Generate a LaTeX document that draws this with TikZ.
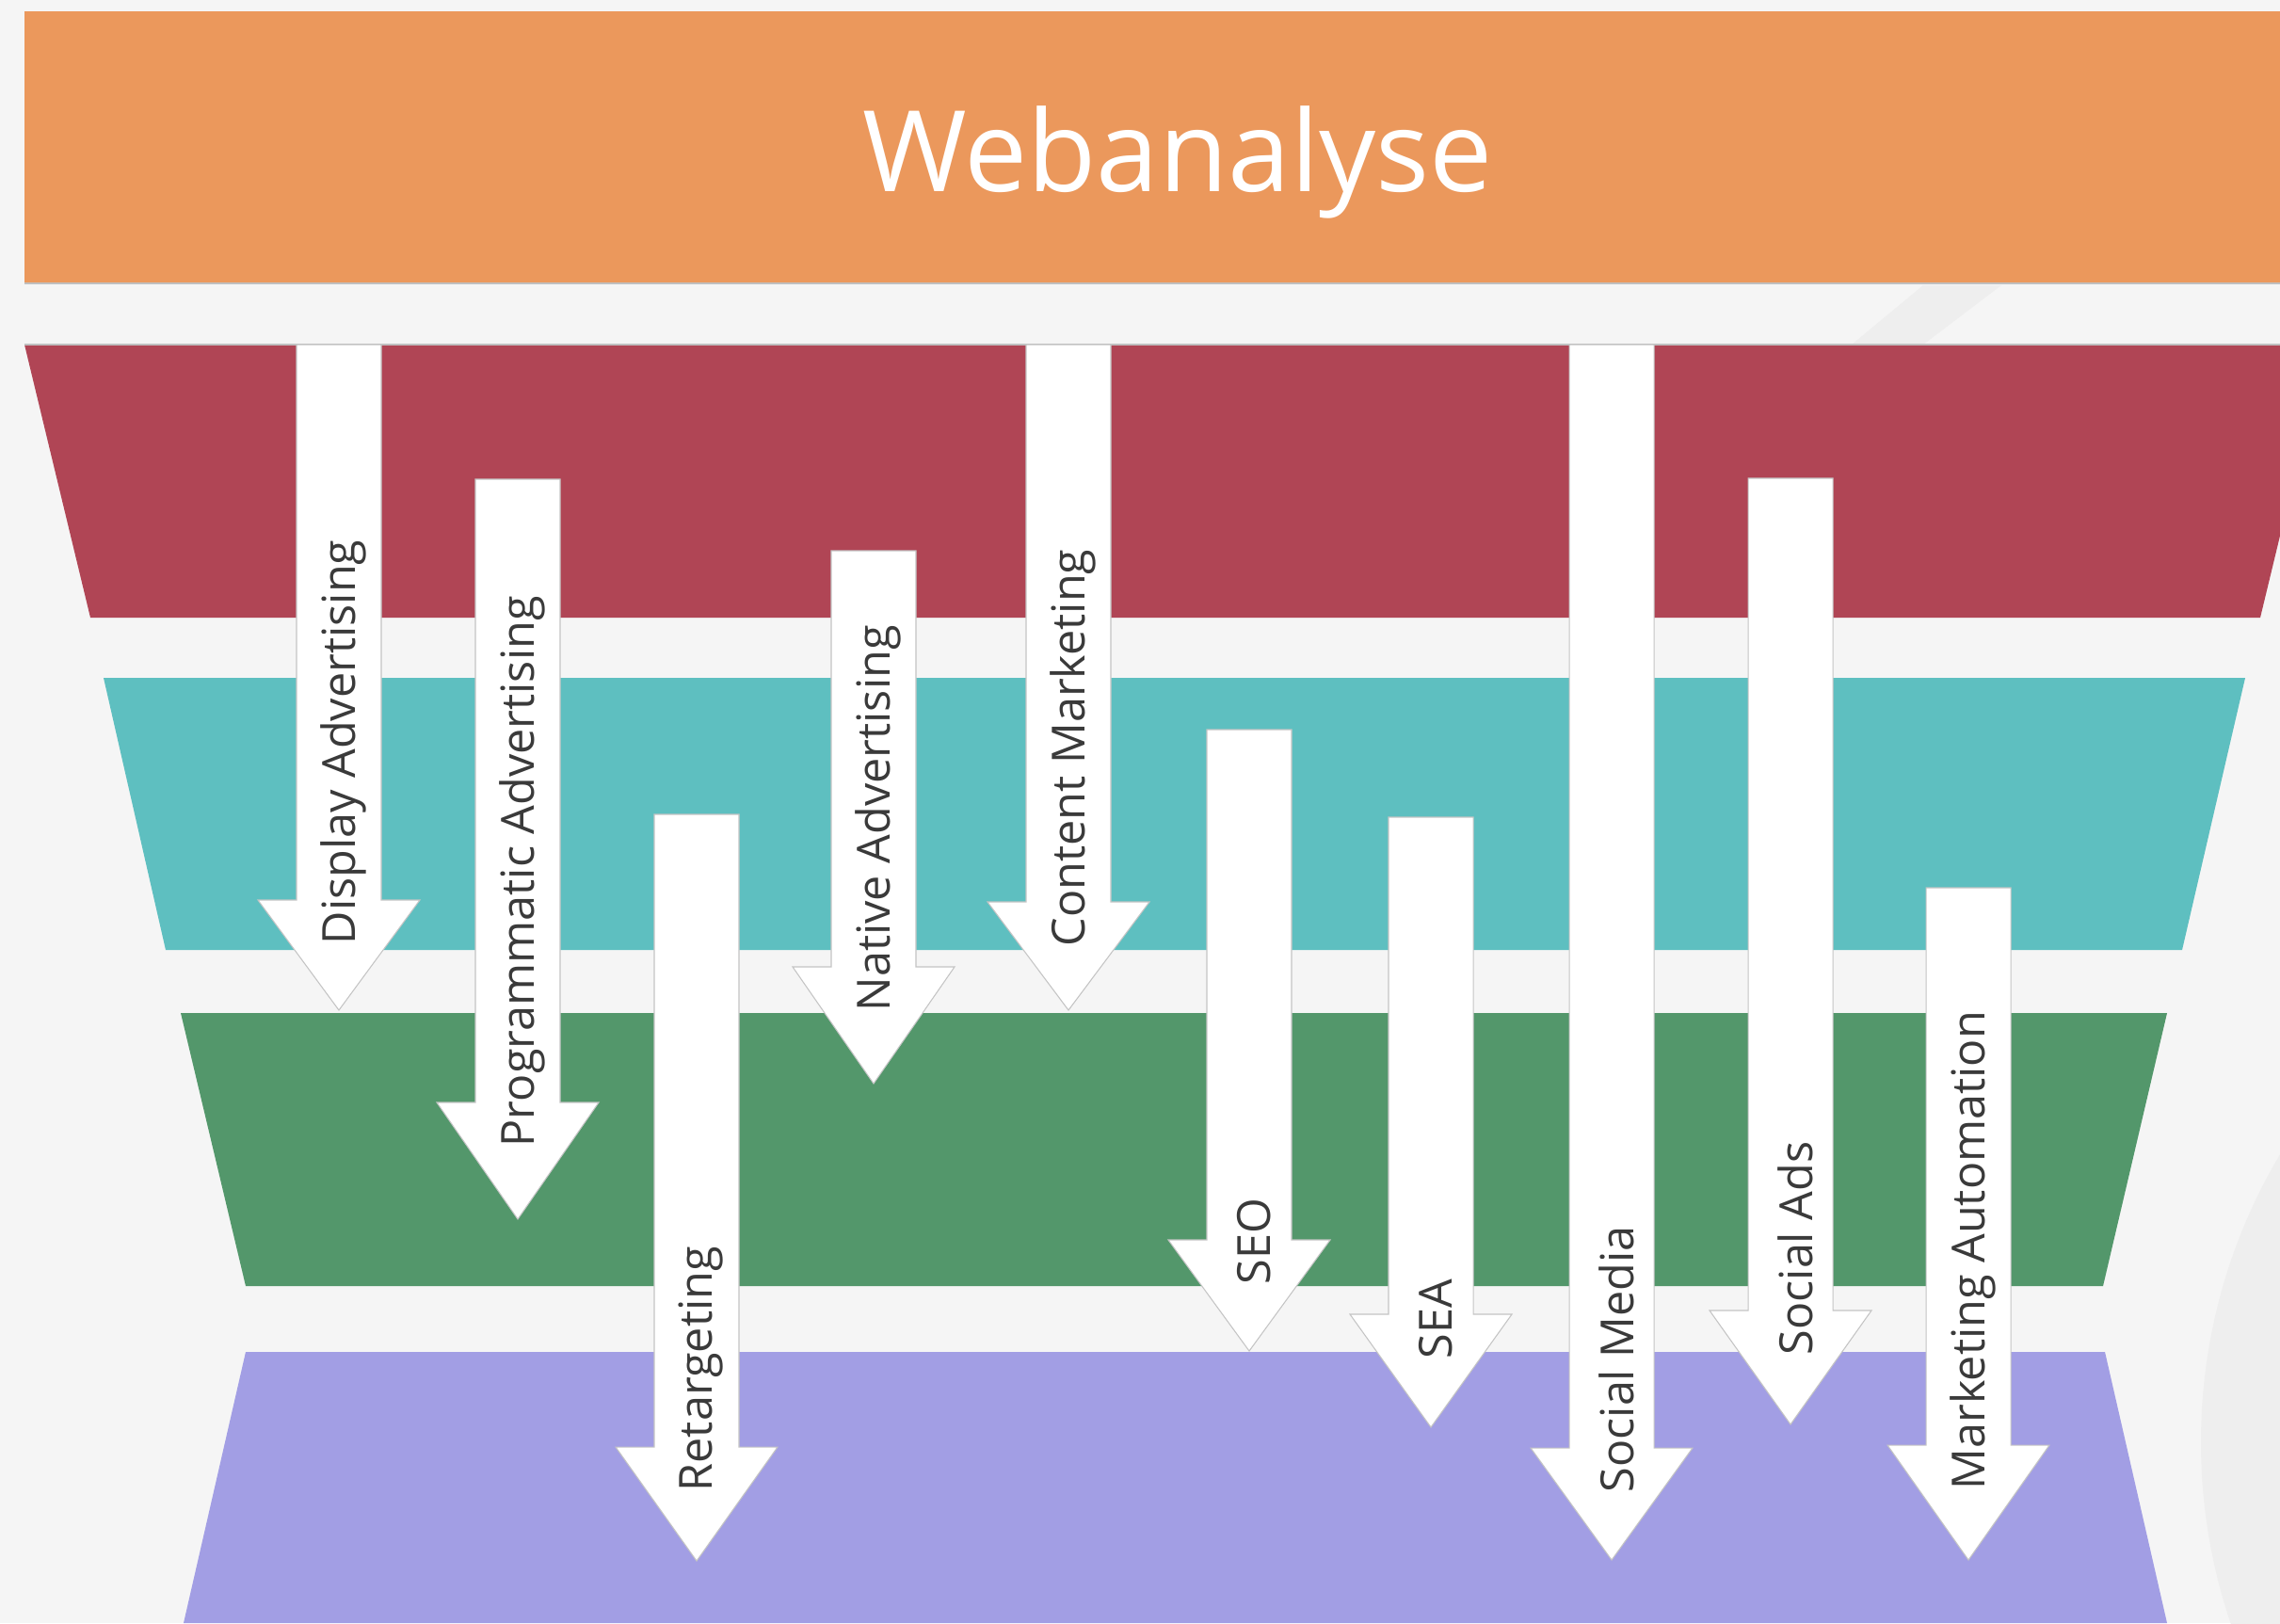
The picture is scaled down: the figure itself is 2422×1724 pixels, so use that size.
\documentclass[tikz,border=0pt]{standalone}
\usepackage{fontspec}
\setmainfont{Open Sans}
\definecolor{bg}{HTML}{F5F5F5}
\definecolor{deco}{HTML}{EEEEEE}
\definecolor{orangeband}{HTML}{EB985C}
\definecolor{redband}{HTML}{B04555}
\definecolor{tealband}{HTML}{5EBFC0}
\definecolor{greenband}{HTML}{53976B}
\definecolor{purpleband}{HTML}{A29EE4}
\definecolor{labelgray}{HTML}{3A3A3A}
\definecolor{edgegray}{HTML}{C4C4C4}
\tikzset{
  arrowfill/.style={fill=white, draw=edgegray, line width=0.3pt, line join=miter},
  arrowlabel/.style={rotate=90, anchor=west, inner sep=0pt, text=labelgray, font=\fontsize{13.8pt}{16pt}\selectfont},
  bandedge/.style={draw=black!25, line width=0.6pt}
}
\newcommand\funnelarrow[6]{%
  \filldraw[arrowfill] (#2-45,#3) -- (#2+45,#3) -- (#2+45,#4) -- (#2+86,#4) -- (#2,#5) -- (#2-86,#4) -- (#2-45,#4) -- cycle;
  \node[arrowlabel] (#1) at (#2+5,#4+48) {#6};
}
\begin{document}
\begin{tikzpicture}[x=0.01cm,y=-0.01cm]
\useasboundingbox (0,0) rectangle (2422,1724);
\fill[bg] (0,0) rectangle (2422,1724);
% faint background decoration
\fill[deco] (2043,303) -- (2126,303) -- (2043,366) -- (1967,366) -- cycle;
\fill[deco] (2936,1532) circle[radius=598];
% title banner
\fill[orangeband] (26,12) rectangle (2422,301);
\draw[bandedge] (26,301) -- (2422,301);
\node[text=white, font=\fontsize{34pt}{40pt}\selectfont, anchor=base] (title) at (1251,203) {Webanalyse};
% funnel bands
\fill[redband] (26,366) -- (2471,366) -- (2401,656) -- (96,656) -- cycle;
\draw[bandedge] (26,366) -- (2422,366);
\fill[tealband] (110,720) -- (2385,720) -- (2318,1009) -- (176,1009) -- cycle;
\fill[greenband] (192,1076) -- (2302,1076) -- (2234,1366) -- (261,1366) -- cycle;
\fill[purpleband] (261,1436) -- (2236,1436) -- (2302,1724) -- (195,1724) -- cycle;
% arrows
\funnelarrow{display}{360}{366}{956}{1073}{Display Advertising}
\funnelarrow{programmatic}{550}{509}{1171}{1295}{Programmatic Advertising}
\funnelarrow{retargeting}{740}{865}{1537}{1658}{Retargeting}
\funnelarrow{native}{928}{585}{1027}{1151}{Native Advertising}
\funnelarrow{content}{1135}{366}{958}{1073}{Content Marketing}
\funnelarrow{seo}{1327}{775}{1317}{1435}{SEO}
\funnelarrow{sea}{1520}{868}{1396}{1516}{SEA}
\funnelarrow{socialmedia}{1712}{366}{1538}{1657}{Social Media}
\funnelarrow{socialads}{1902}{508}{1392}{1513}{Social Ads}
\funnelarrow{automation}{2091}{943}{1535}{1657}{Marketing Automation}
\end{tikzpicture}
\end{document}
